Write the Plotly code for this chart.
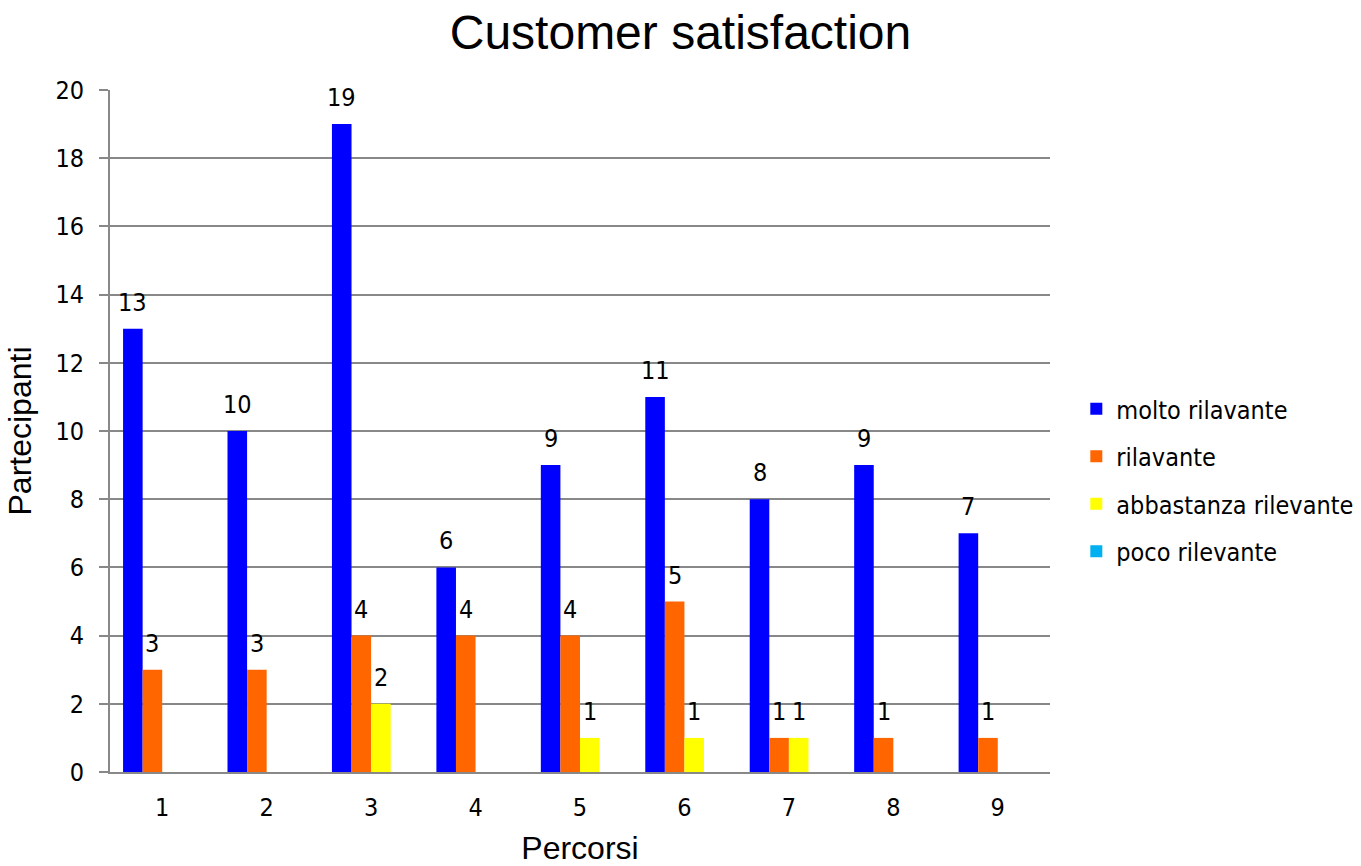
import plotly.graph_objects as go

categories = ["1", "2", "3", "4", "5", "6", "7", "8", "9"]
series_names = ["molto rilavante", "rilavante", "abbastanza rilevante", "poco rilevante"]
molto = [13, 10, 19, 6, 9, 11, 8, 9, 7]
rilavante = [3, 3, 4, 4, 4, 5, 1, 1, 1]
abbastanza = [0, 0, 2, 0, 1, 1, 1, 0, 0]
poco = [0, 0, 0, 0, 0, 0, 0, 0, 0]
y_ticks = [0, 2, 4, 6, 8, 10, 12, 14, 16, 18, 20]

colors = ["#0000FF", "#FF6600", "#FFFF00", "#00B0F0"]
label_font = "DejaVu Sans Condensed, DejaVu Sans, sans-serif"
title_font = "Liberation Sans, Arial, sans-serif"

W, H = 1361, 866
M = dict(l=110, r=311, t=90, b=94)
BARGAP = 0.25
all_series = [molto, rilavante, abbastanza, poco]

fig = go.Figure()
for i, (name, vals) in enumerate(zip(series_names, all_series)):
    fig.add_trace(go.Bar(
        x=categories, y=vals, name=name,
        marker=dict(color=colors[i], line=dict(width=0)),
        legendgroup=name,
    ))

# value labels above each non-zero bar, shifted to the bar's slot in its group
cat_px = (W - M["l"] - M["r"]) / len(categories)
bar_px = cat_px * (1 - BARGAP) / len(all_series)
for i, vals in enumerate(all_series):
    for ci, v in enumerate(vals):
        if v:
            fig.add_annotation(
                x=ci, y=v, text=str(v), showarrow=False,
                xshift=(i - (len(all_series) - 1) / 2) * bar_px,
                yanchor="bottom", yshift=10,
                font=dict(family=label_font, size=25, color="black"),
            )

fig.update_layout(
    width=W, height=H,
    margin=dict(**M, autoexpand=False),
    paper_bgcolor="white", plot_bgcolor="white",
    barmode="group", bargap=BARGAP, bargroupgap=0,
    title=dict(text="Customer satisfaction", x=0.5, xref="container", xanchor="center",
               y=0.963, yref="container", yanchor="middle",
               font=dict(family=title_font, size=48, color="black")),
    legend=dict(x=1.028, y=0.428, xanchor="left", yanchor="middle",
                font=dict(family=label_font, size=25, color="black"),
                tracegroupgap=12, itemwidth=30),
    xaxis=dict(
        type="category", range=[-0.5, len(categories) - 0.5],
        showline=True, linecolor="#888888", linewidth=2,
        ticks="", tickfont=dict(family=label_font, size=25, color="black"),
        ticklabelstandoff=12,
        title=dict(text="Percorsi", font=dict(family=title_font, size=32, color="black"), standoff=22),
    ),
    yaxis=dict(
        range=[0, 20], tickvals=y_ticks,
        showline=True, linecolor="#888888", linewidth=2,
        showgrid=True, gridcolor="#888888", gridwidth=2,
        ticks="outside", ticklen=9, tickcolor="#888888", tickwidth=2,
        tickfont=dict(family=label_font, size=25, color="black"),
        ticklabelstandoff=10,
        zeroline=False,
        title=dict(text="Partecipanti", font=dict(family=title_font, size=32, color="black"), standoff=14),
    ),
)

fig.write_html("out.html")
